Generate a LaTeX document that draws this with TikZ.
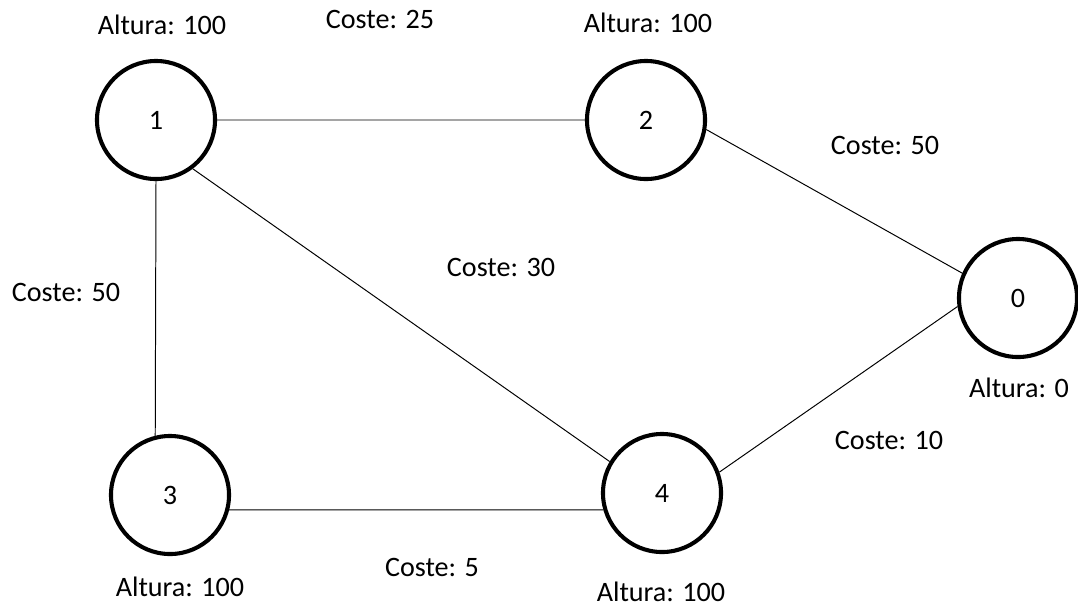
\documentclass[tikz,border=0pt]{standalone}
\usepackage{fontspec}
\setmainfont{Carlito}
\usepackage{tikz}

\tikzset{
  nodo/.style={circle, draw, line width=2.9pt, minimum size=2.95cm, inner sep=0pt},
  txt/.style={inner sep=0pt}
}

\begin{document}
\begin{tikzpicture}[x=0.025cm, y=-0.025cm, font=\fontsize{20}{24}\selectfont]
\useasboundingbox (0,0) rectangle (1078,607);

% nodos del grafo
\node[nodo] (n1) at (156,120) {1};
\node[nodo] (n2) at (646,120) {2};
\node[nodo] (n0) at (1018,298) {0};
\node[nodo] (n3) at (170,495) {3};
\node[nodo] (n4) at (662,493) {4};

% aristas
\draw[line width=0.7pt]
(n1) -- (n2)
(n2.-9) -- (n0.156)
(n1.-90) -- (n3.104)
(n1.-53) -- (n4.149)
(n3.-14) -- (n4.196)
(n4.20) -- (n0.188);

% alturas
\node[txt] (a1) at (162,25) {Altura: 100};
\node[txt] (a2) at (648,23) {Altura: 100};
\node[txt] (a0) at (1019,388) {Altura: 0};
\node[txt] (a3) at (180,587) {Altura: 100};
\node[txt] (a4) at (661,592) {Altura: 100};

% costes
\node[txt] (c12) at (380,19) {Coste: 25};
\node[txt] (c20) at (885,145) {Coste: 50};
\node[txt] (c14) at (501,267) {Coste: 30};
\node[txt] (c13) at (66,292) {Coste: 50};
\node[txt] (c40) at (889,440) {Coste: 10};
\node[txt] (c34) at (432,567) {Coste: 5};
\end{tikzpicture}
\end{document}
